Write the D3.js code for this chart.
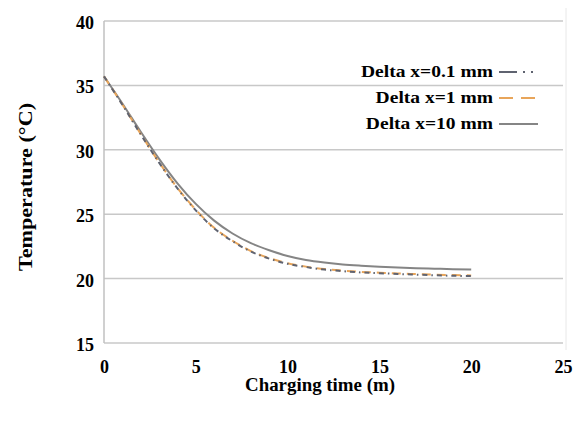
<!DOCTYPE html>
<html><head><meta charset="utf-8">
<script src="https://cdn.jsdelivr.net/npm/d3@7"></script>
<style>body{margin:0;background:#fff}svg{display:block}</style>
</head><body>
<script>
const time = [0,1,2,3,4,5,6,7,8,9,10,11,12,13,14,15,16,17,18,19,20];
const temp01 = [35.7,33.5,31.2,29.0,27.0,25.3,23.9,22.9,22.1,21.55,21.15,20.9,20.7,20.58,20.48,20.42,20.36,20.31,20.26,20.22,20.2];
const temp1 = [35.7,33.52,31.23,29.03,27.04,25.34,23.94,22.94,22.14,21.59,21.19,20.93,20.74,20.62,20.52,20.46,20.4,20.35,20.3,20.27,20.25];
const temp10 = [35.7,33.6,31.4,29.3,27.4,25.8,24.5,23.5,22.75,22.2,21.75,21.45,21.25,21.1,21.0,20.92,20.86,20.81,20.77,20.73,20.7];
const seriesNames = ["Delta x=0.1 mm","Delta x=1 mm","Delta x=10 mm"];
const xTicks = [0,5,10,15,20,25];
const yTicks = [15,20,25,30,35,40];

const W=574,H=426;
const svg=d3.select("body").append("svg").attr("width",W).attr("height",H);
const x=d3.scaleLinear().domain([0,25]).range([104,563]);
const y=d3.scaleLinear().domain([15,40]).range([343,21]);
const font="'Liberation Serif','Times New Roman',serif";

// frame
svg.append("line").attr("x1",566).attr("x2",566).attr("y1",8).attr("y2",350).attr("stroke","#e8e8e8").attr("stroke-width",1);

// gridlines
svg.append("g").selectAll("line").data(yTicks).join("line")
  .attr("x1",x(0)).attr("x2",x(25)).attr("y1",d=>y(d)).attr("y2",d=>y(d))
  .attr("stroke","#c8c8c8").attr("stroke-width",1.5);
svg.append("line").attr("x1",x(0)).attr("x2",x(0)).attr("y1",y(40)).attr("y2",y(15)).attr("stroke","#c0c0c0").attr("stroke-width",1.5);

// axes
const yAxis=svg.append("g").attr("transform",`translate(${x(0)},0)`).call(d3.axisLeft(y).tickValues(yTicks).tickSize(0).tickPadding(10));
yAxis.select(".domain").remove();
yAxis.selectAll("text").attr("font-family",font).attr("font-weight","bold").attr("font-size",18).attr("fill","#000").attr("dy","0.42em");
const xAxis=svg.append("g").attr("transform",`translate(0,${y(15)})`).call(d3.axisBottom(x).tickValues(xTicks).tickSize(0).tickPadding(17));
xAxis.select(".domain").remove();
xAxis.selectAll("text").attr("font-family",font).attr("font-weight","bold").attr("font-size",18).attr("fill","#000");

// titles
svg.append("text").attr("x",320).attr("y",391).attr("text-anchor","middle").attr("font-family",font).attr("font-weight","bold").attr("font-size",18)
  .attr("textLength",150).attr("lengthAdjust","spacingAndGlyphs").text("Charging time (m)");
svg.append("text").attr("transform","translate(32,187) rotate(-90)").attr("text-anchor","middle").attr("font-family",font).attr("font-weight","bold").attr("font-size",19)
  .attr("textLength",168).attr("lengthAdjust","spacingAndGlyphs").text("Temperature (°C)");

// lines
const styles=[
  {data:temp01,color:"#5f6370",dash:"5,4,1.5,4",w:2},
  {data:temp1,color:"#e8a55a",dash:"9,6",w:2},
  {data:temp10,color:"#858585",dash:null,w:2}
];
const line=d3.line().x((d,i)=>x(time[i])).y(d=>y(d)).curve(d3.curveMonotoneX);
[2,1,0].forEach(k=>{
  const s=styles[k];
  svg.append("path").datum(s.data).attr("d",line).attr("fill","none").attr("stroke",s.color).attr("stroke-width",s.w).attr("stroke-dasharray",s.dash);
});

// legend
const legY=[72,98,124];
const legTexts=seriesNames.map((n,i)=>svg.append("text").attr("x",493).attr("y",legY[i]+5).attr("text-anchor","end")
  .attr("font-family",font).attr("font-weight","bold").attr("font-size",16).text(n));
const w0=legTexts[0].node().getComputedTextLength();
const f=132/w0;
legTexts.forEach(t=>{const w=t.node().getComputedTextLength(); t.attr("textLength",w*f).attr("lengthAdjust","spacingAndGlyphs");});
seriesNames.forEach((n,i)=>{
  const s=styles[i];
  svg.append("line").attr("x1",499).attr("x2",538).attr("y1",legY[i]).attr("y2",legY[i]).attr("stroke",s.color).attr("stroke-width",2)
    .attr("stroke-dasharray",s.dash? (i===0?"18,6,2,6,2,6":"14,8,14"):null);
});
</script>
</body></html>
